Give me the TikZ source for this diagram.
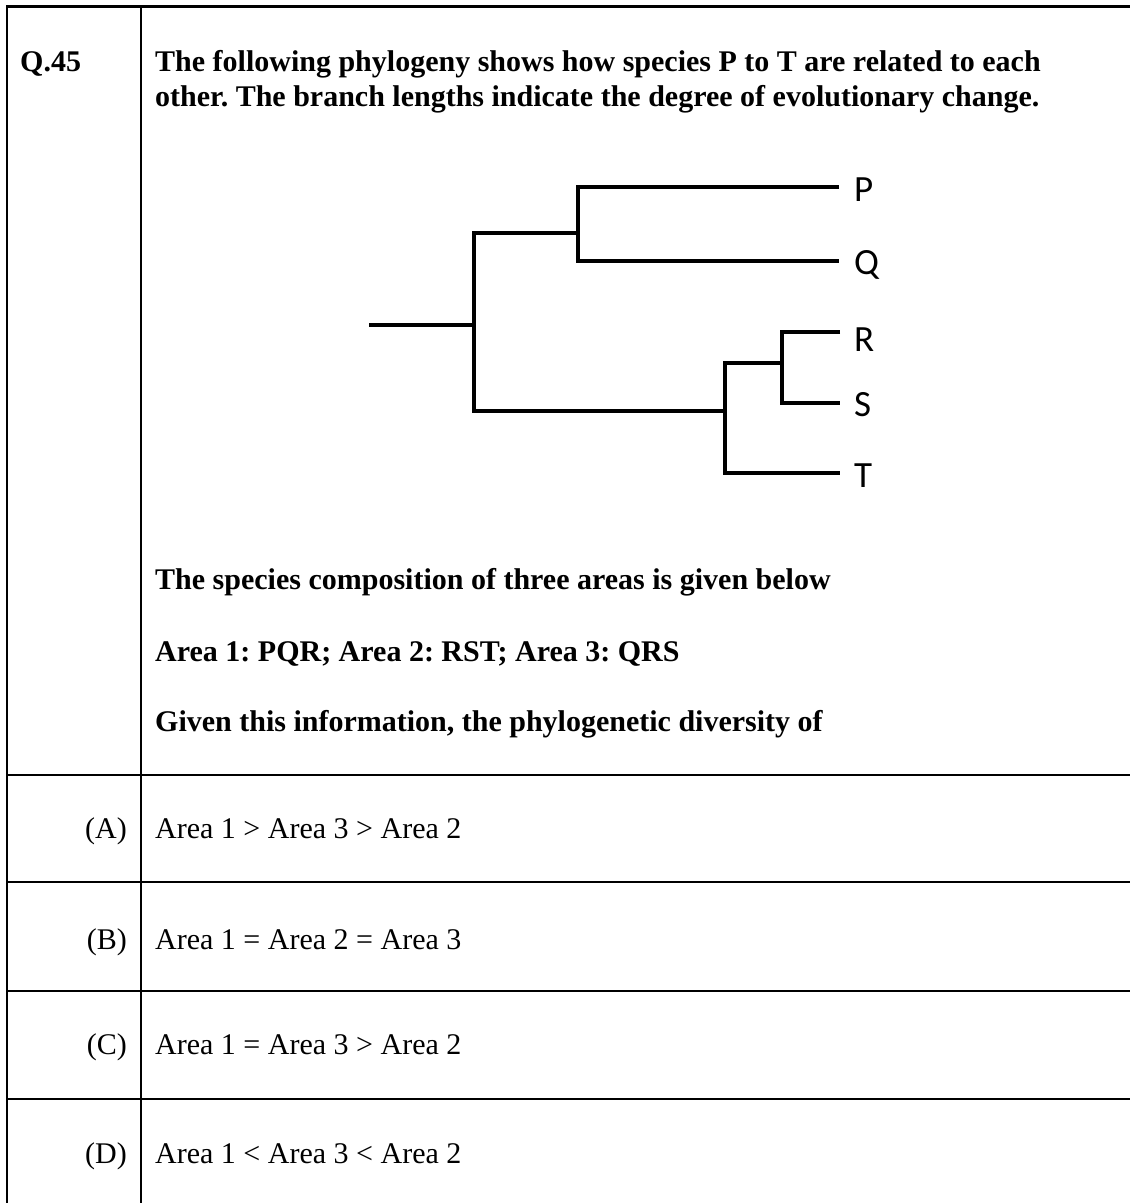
\documentclass[tikz,border=0pt]{standalone}
\usepackage{fontspec}
\setmainfont{Liberation Serif}
\newfontfamily\labelfont{Carlito}
\frenchspacing
\begin{document}
\begin{tikzpicture}[x=1pt,y=-1pt,
  rule/.style={line width=2.6pt,black},
  branch/.style={line width=4.5pt,black,line join=miter},
  bodytext/.style={anchor=base west,inner sep=0pt,font=\fontsize{30}{35}\selectfont\bfseries},
  opttext/.style={anchor=base west,inner sep=0pt,font=\fontsize{30}{35}\selectfont},
  optlabel/.style={anchor=base east,inner sep=0pt,font=\fontsize{30}{35}\selectfont},
  tiplabel/.style={anchor=base west,inner sep=0pt,font=\labelfont\fontsize{37}{40}\selectfont}]
\useasboundingbox[fill=white] (0,0) rectangle (1130,1203);
% table rules
\draw[rule] (7,1203) -- (7,6.5) -- (1130,6.5);
\draw[rule] (141,6.5) -- (141,1203);
\draw[rule] (7,775) -- (1130,775);
\draw[rule] (7,882) -- (1130,882);
\draw[rule] (7,991) -- (1130,991);
\draw[rule] (7,1099) -- (1130,1099);
% header
\node[bodytext] (qnum) at (20,71) {Q.45};
\node[bodytext] (l1) at (155,71) {The following phylogeny shows how species P to T are related to each};
\node[bodytext] (l2) at (155,106) {other. The branch lengths indicate the degree of evolutionary change.};
% tree
\coordinate (root) at (369,325);
\coordinate (a) at (474,325);
\coordinate (at) at (474,233);
\coordinate (ab) at (474,411);
\coordinate (b) at (578,233);
\coordinate (bt) at (578,187);
\coordinate (bb) at (578,261);
\coordinate (tP) at (839,187);
\coordinate (tQ) at (839,261);
\coordinate (c) at (725,411);
\coordinate (ct) at (725,363);
\coordinate (cb) at (725,473);
\coordinate (tT) at (840,473);
\coordinate (d) at (782,363);
\coordinate (dt) at (782,332);
\coordinate (db) at (782,403);
\coordinate (tR) at (840,332);
\coordinate (tS) at (840,403);
\draw[branch] (root) -- (a);
\draw[branch] (b) -- (at) -- (ab) -- (c);
\draw[branch] (tP) -- (bt) -- (bb) -- (tQ);
\draw[branch] (d) -- (ct) -- (cb) -- (tT);
\draw[branch] (tR) -- (dt) -- (db) -- (tS);
\node[tiplabel] (P) at (854,201) {P};
\node[tiplabel] (Q) at (854,274) {Q};
\node[tiplabel] (R) at (854,351) {R};
\node[tiplabel] (S) at (854,416) {S};
\node[tiplabel] (T) at (854,487) {T};
% text below tree
\node[bodytext] (s1) at (155,589) {The species composition of three areas is given below};
\node[bodytext] (s2) at (155,661) {Area 1: PQR; Area 2: RST; Area 3: QRS};
\node[bodytext] (s3) at (155,731) {Given this information, the phylogenetic diversity of};
% options
\node[optlabel] (A) at (127,838) {(A)};
\node[opttext] (Atext) at (155,838) {Area 1 > Area 3 > Area 2};
\node[optlabel] (B) at (127,949) {(B)};
\node[opttext] (Btext) at (155,949) {Area 1 = Area 2 = Area 3};
\node[optlabel] (C) at (127,1054) {(C)};
\node[opttext] (Ctext) at (155,1054) {Area 1 = Area 3 > Area 2};
\node[optlabel] (D) at (127,1163) {(D)};
\node[opttext] (Dtext) at (155,1163) {Area 1 < Area 3 < Area 2};
\end{tikzpicture}
\end{document}
